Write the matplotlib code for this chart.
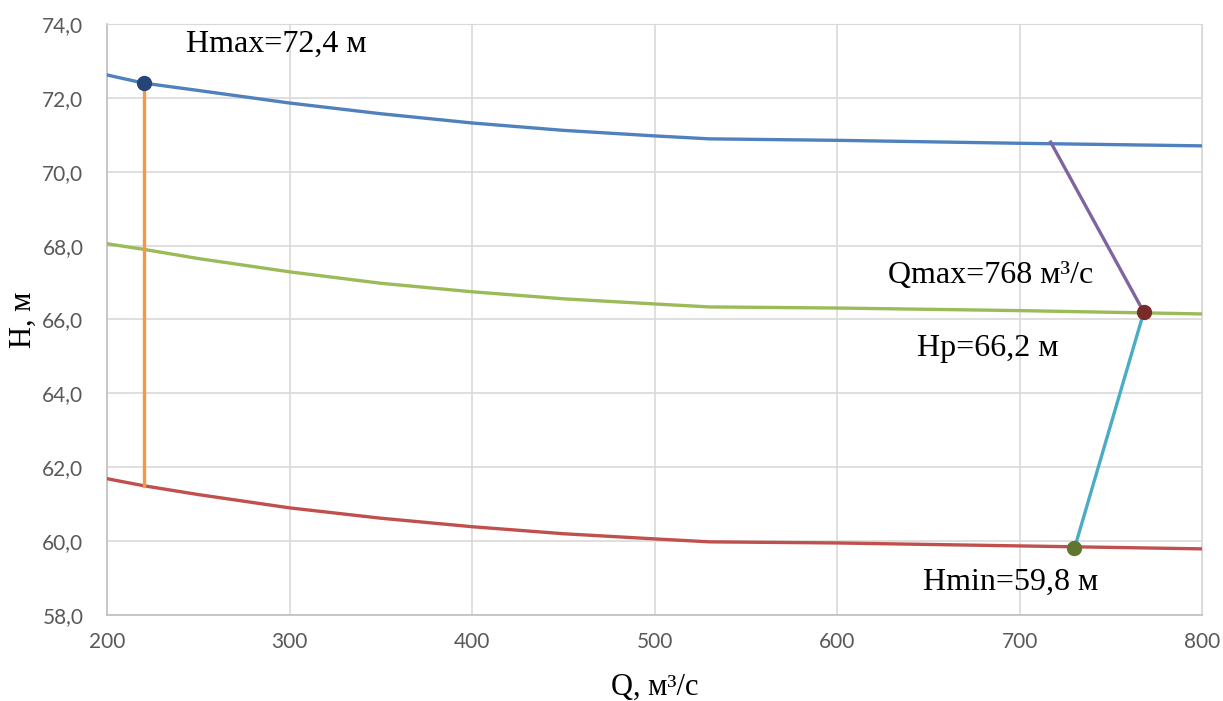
import numpy as np
import matplotlib
matplotlib.use("Agg")
import matplotlib.pyplot as plt
from matplotlib.ticker import FuncFormatter, MultipleLocator

# Характеристики (Q, м3/с -> H, м)
q_curve = [200, 220, 250, 300, 350, 400, 450, 500, 530, 600, 700, 800]
h_max_curve = [72.62, 72.40, 72.20, 71.86, 71.57, 71.32, 71.12, 70.97, 70.89, 70.85, 70.77, 70.70]
h_p_curve = [68.05, 67.90, 67.65, 67.29, 66.98, 66.75, 66.56, 66.42, 66.34, 66.31, 66.24, 66.15]
h_min_curve = [61.69, 61.50, 61.26, 60.90, 60.62, 60.39, 60.20, 60.06, 59.98, 59.95, 59.87, 59.79]

# Отрезки
q_hmax = 220
h_hmax = 72.4
h_at_hmax_on_min = 61.5
q_qmax = 768
h_p = 66.2
q_purple_start = 717
h_purple_start = 70.8
q_hmin = 730
h_hmin = 59.8

serif = ["Liberation Serif", "DejaVu Serif"]

fig = plt.figure(figsize=(12.23, 7.01), dpi=100)
ax = fig.add_axes([0.0875, 0.1227, 0.8955, 0.8431])

ax.plot(q_curve, h_max_curve, color="#4F81BD", lw=2.4, zorder=3)
ax.plot(q_curve, h_p_curve, color="#9BBB59", lw=2.4, zorder=3)
ax.plot(q_curve, h_min_curve, color="#C0504D", lw=2.4, zorder=3)

ax.plot([q_hmax, q_hmax], [h_at_hmax_on_min, h_hmax], color="#F79646", lw=2.4, zorder=4)
ax.plot([q_purple_start, q_qmax], [h_purple_start, h_p], color="#8064A2", lw=2.4, zorder=4)
ax.plot([q_qmax, q_hmin], [h_p, h_hmin], color="#4BACC6", lw=2.4, zorder=4)

ax.plot([q_hmax], [h_hmax], "o", color="#264478", ms=10, zorder=5)
ax.plot([q_qmax], [h_p], "o", color="#772C2A", ms=10, zorder=5)
ax.plot([q_hmin], [h_hmin], "o", color="#5F7530", ms=10, zorder=5)

ax.text(243, 73.25, "Hmax=72,4 м", family=serif, fontsize=23, va="baseline", ha="left")
ax.text(628, 67.0, "Qmax=768 м³/с", family=serif, fontsize=23, va="baseline", ha="left")
ax.text(644, 65.0, "Hp=66,2 м", family=serif, fontsize=23, va="baseline", ha="left")
ax.text(647, 58.68, "Hmin=59,8 м", family=serif, fontsize=23, va="baseline", ha="left")

ax.set_xlim(200, 800)
ax.set_ylim(58, 74)
ax.xaxis.set_major_locator(MultipleLocator(100))
ax.yaxis.set_major_locator(MultipleLocator(2))
ax.yaxis.set_major_formatter(FuncFormatter(lambda v, p: f"{v:.1f}".replace(".", ",")))

ax.grid(True, color="#D9D9D9", lw=1.2)
ax.set_axisbelow(True)
for s in ["top", "right"]:
    ax.spines[s].set_color("#D9D9D9")
for s in ["left", "bottom"]:
    ax.spines[s].set_color("#BFBFBF")
    ax.spines[s].set_linewidth(1.2)
ax.tick_params(length=0, labelsize=15, labelcolor="#595959")
ax.tick_params(axis="y", pad=17)
ax.tick_params(axis="x", pad=12)
for lab in ax.get_xticklabels() + ax.get_yticklabels():
    lab.set_family("Lato")

ax.set_xlabel("Q, м³/с", family=serif, fontsize=22, labelpad=15)
ax.set_ylabel("H, м", family=serif, fontsize=22, labelpad=3)

fig.savefig("out.png", dpi=100)
